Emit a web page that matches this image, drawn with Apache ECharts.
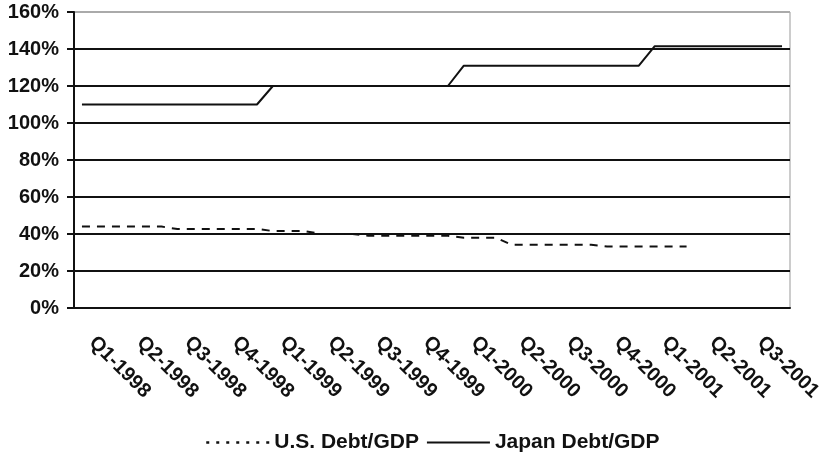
<!DOCTYPE html>
<html>
<head>
<meta charset="utf-8">
<script src="https://cdn.jsdelivr.net/npm/echarts@6/dist/echarts.min.js"></script>
<style>
  html, body { margin: 0; padding: 0; background: #fff; }
  #chart { width: 822px; height: 459px; }
</style>
</head>
<body>
<div id="chart"></div>
<script>
// monthly points, Jan 1998 .. Sep 2001
const months = [
  '1998-01','1998-02','1998-03','1998-04','1998-05','1998-06','1998-07','1998-08','1998-09','1998-10','1998-11','1998-12',
  '1999-01','1999-02','1999-03','1999-04','1999-05','1999-06','1999-07','1999-08','1999-09','1999-10','1999-11','1999-12',
  '2000-01','2000-02','2000-03','2000-04','2000-05','2000-06','2000-07','2000-08','2000-09','2000-10','2000-11','2000-12',
  '2001-01','2001-02','2001-03','2001-04','2001-05','2001-06','2001-07','2001-08','2001-09'
]
// quarter tick labels (shown under the middle month of each quarter)
const quarters = [
  'Q1-1998','Q2-1998','Q3-1998','Q4-1998',
  'Q1-1999','Q2-1999','Q3-1999','Q4-1999',
  'Q1-2000','Q2-2000','Q3-2000','Q4-2000',
  'Q1-2001','Q2-2001','Q3-2001'
]
const usDebt = [
  44, 44, 44, 44, 44, 44, 42.7, 42.7, 42.7, 42.7, 42.7, 42.7,
  41.6, 41.6, 41.6, 40, 40, 40, 39, 39, 39, 39, 39, 39,
  38, 38, 38, 34.2, 34.2, 34.2, 34.2, 34.2, 34.2, 33.3, 33.3, 33.3,
  33.3, 33.3, 33.3, null, null, null, null, null, null
]
const japanDebt = [
  110, 110, 110, 110, 110, 110, 110, 110, 110, 110, 110, 110,
  120, 120, 120, 120, 120, 120, 120, 120, 120, 120, 120, 120,
  131, 131, 131, 131, 131, 131, 131, 131, 131, 131, 131, 131,
  141.5, 141.5, 141.5, 141.5, 141.5, 141.5, 141.5, 141.5, 141.5
]
const yTicks = [0, 20, 40, 60, 80, 100, 120, 140, 160]

const font = 'Liberation Sans, Arial, sans-serif'
const chart = echarts.init(document.getElementById('chart'))
const option = {
  animation: false,
  backgroundColor: '#fff',
  textStyle: { fontFamily: font, color: '#111' },
  grid: {
    left: 74, right: 32, top: 12, bottom: 151,
    outerBoundsMode: 'none',
    show: true, borderColor: '#999', borderWidth: 1
  },
  legend: {
    left: 200, top: 427,
    itemWidth: 63, itemHeight: 10, itemGap: 7,
    itemStyle: { opacity: 0 },
    textStyle: { fontFamily: font, fontSize: 21, fontWeight: 'bold', color: '#111' },
    data: [
      { name: 'U.S. Debt/GDP', lineStyle: { type: [3, 7], width: 2.5 } },
      { name: 'Japan Debt/GDP' }
    ]
  },
  xAxis: {
    type: 'category',
    data: months,
    boundaryGap: true,
    axisLine: { lineStyle: { color: '#111', width: 2 } },
    axisTick: { interval: 0, length: 6, lineStyle: { color: '#111', width: 2 } },
    axisLabel: {
      interval: (i) => i % 3 === 1,
      formatter: (v, i) => quarters[Math.floor(i / 3)],
      rotate: -45,
      verticalAlign: 'top',
      lineHeight: 16,
      margin: 26,
      fontFamily: font,
      fontSize: 20,
      fontWeight: 'bold',
      color: '#111'
    },
    splitLine: { show: false }
  },
  yAxis: {
    type: 'value',
    min: yTicks[0],
    max: yTicks[yTicks.length - 1],
    interval: 20,
    axisLine: { show: true, lineStyle: { color: '#111', width: 2 } },
    axisTick: { show: true, length: 7, lineStyle: { color: '#111', width: 2 } },
    axisLabel: {
      formatter: '{value}%',
      margin: 15,
      fontFamily: font,
      fontSize: 20,
      fontWeight: 'bold',
      color: '#111'
    },
    splitLine: {
      lineStyle: {
        width: 2,
        color: ['#111', '#111', '#111', '#111', '#111', '#111', '#111', '#111', '#aaa']
      }
    }
  },
  series: [
    {
      name: 'U.S. Debt/GDP',
      type: 'line',
      data: usDebt,
      symbol: 'none',
      lineStyle: { color: '#111', width: 2, type: [8, 7] },
      itemStyle: { color: '#111' }
    },
    {
      name: 'Japan Debt/GDP',
      type: 'line',
      data: japanDebt,
      symbol: 'none',
      lineStyle: { color: '#111', width: 2 },
      itemStyle: { color: '#111' }
    }
  ]
}
chart.setOption(option)
</script>
</body>
</html>
